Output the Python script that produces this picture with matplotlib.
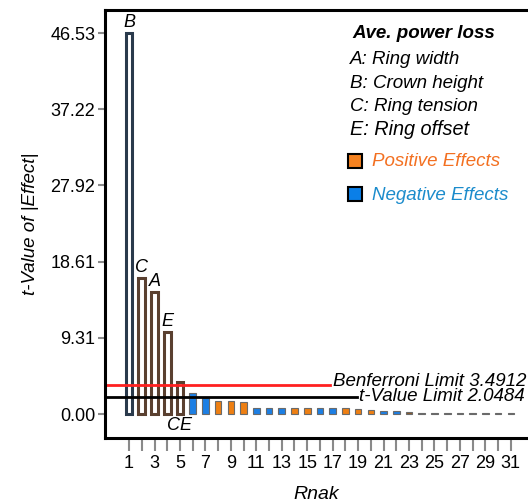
#!/usr/bin/env python3
# pareto of t-values for ave. power loss

import matplotlib
matplotlib.use("Agg")
import matplotlib.pyplot as plt
from matplotlib.patches import Rectangle

plt.rcParams['font.family'] = ['Liberation Sans', 'DejaVu Sans']

ranks = list(range(1, 32))
tvals = [46.53, 16.6, 14.9, 10.0, 3.9, 2.56, 1.95, 1.6, 1.6, 1.5,
         0.72, 0.72, 0.72, 0.70, 0.70, 0.70, 0.68, 0.68, 0.66, 0.5,
         0.42, 0.32, 0.3, 0.15, 0.15, 0.15, 0.15, 0.15, 0.15, 0.15, 0.15]
kinds = ['neg', 'pos', 'pos', 'pos', 'pos', 'neg', 'neg', 'pos', 'pos', 'pos',
         'neg', 'neg', 'neg', 'pos', 'pos', 'neg', 'neg', 'pos', 'pos', 'pos',
         'neg', 'neg', 'brn'] + ['gry'] * 8
bar_labels = {1: 'B', 2: 'C', 3: 'A', 4: 'E'}
yticks = [0.00, 9.31, 18.61, 27.92, 37.22, 46.53]
xticks = list(range(1, 32))
t_limit = 2.0484
bonf_limit = 3.4912
legend_lines = ['A: Ring width', 'B: Crown height', 'C: Ring tension', 'E: Ring offset']

fill = {'pos': '#ee7f12', 'neg': '#1c7fe4', 'brn': '#8a5a2a', 'gry': '#404040'}
hollow_edge = {'pos': '#5a4030', 'neg': '#2a3a4c'}

W, H = 528, 503
fs = 13.5
fig = plt.figure(figsize=(W / 100, H / 100), dpi=100)
ax = fig.add_axes([105 / W, 1 - 438 / H, 1 - 105 / W, (438 - 10) / H])

for r, v, k in zip(ranks, tvals, kinds):
    if r <= 5:
        ax.bar(r, v, width=0.52, facecolor='white', edgecolor=hollow_edge[k], linewidth=2.2)
    else:
        ax.bar(r, v, width=0.52, color=fill[k], edgecolor='#6a6a6a', linewidth=0.8)

for r, lab in bar_labels.items():
    ax.text(r, tvals[r - 1] + 0.3, lab, ha='center', va='bottom', style='italic', fontsize=13)
ax.text(5, -1.4, 'CE', ha='center', va='center', style='italic', fontsize=13)

ax.plot([-0.89, 16.8], [bonf_limit, bonf_limit], color='#ff2020', lw=2)
ax.plot([-0.89, 18.9], [t_limit, t_limit], color='black', lw=2)
ax.text(17.0, bonf_limit + 0.5, 'Benferroni Limit %.4f' % bonf_limit, va='center',
        style='italic', fontsize=fs)
ax.text(19.1, t_limit + 0.05, 't-Value Limit %.4f' % t_limit, va='center',
        style='italic', fontsize=fs)

ax.set_xlim(-0.89, 32.35)
ax.set_ylim(-2.93, 49.34)
ax.set_xticks(xticks)
ax.set_xticklabels([str(x) if x % 2 else '' for x in xticks])
ax.set_yticks(yticks)
ax.set_yticklabels(['%.2f' % y for y in yticks])
ax.tick_params(axis='x', length=9, width=1.5, color='#8a8a8a', labelsize=13, pad=3)
ax.tick_params(axis='y', length=5, width=1.5, color='#8a8a8a', labelsize=13, pad=2)
for s in ['left', 'bottom', 'top']:
    ax.spines[s].set_linewidth(2.2)
ax.spines['right'].set_visible(False)
ax.set_xlabel('Rnak', style='italic', fontsize=14, labelpad=10)
ax.set_ylabel('t-Value of |Effect|', style='italic', fontsize=fs, labelpad=8)

# legend block
fig.text(352 / W, 1 - 34 / H, 'Ave. power loss', style='italic', weight='bold',
         fontsize=fs, va='center')
for i, line in enumerate(legend_lines):
    fig.text(350 / W, 1 - (60 + 23.3 * i) / H, line, style='italic',
             fontsize=fs + (0.8 if i == 3 else 0), va='center')
fig.add_artist(Rectangle((348 / W, 1 - 168 / H), 14 / W, 14 / H, transform=fig.transFigure,
                         facecolor='#f58220', edgecolor='black', lw=1.5))
fig.text(372 / W, 1 - 161 / H, 'Positive Effects', color='#f37021', style='italic',
         fontsize=fs, va='center')
fig.add_artist(Rectangle((348 / W, 1 - 201 / H), 14 / W, 14 / H, transform=fig.transFigure,
                         facecolor='#0a7fe8', edgecolor='black', lw=1.5))
fig.text(372 / W, 1 - 196 / H, 'Negative Effects', color='#1c8ccc', style='italic',
         fontsize=fs, va='center')

fig.savefig("out.png", dpi=100)
